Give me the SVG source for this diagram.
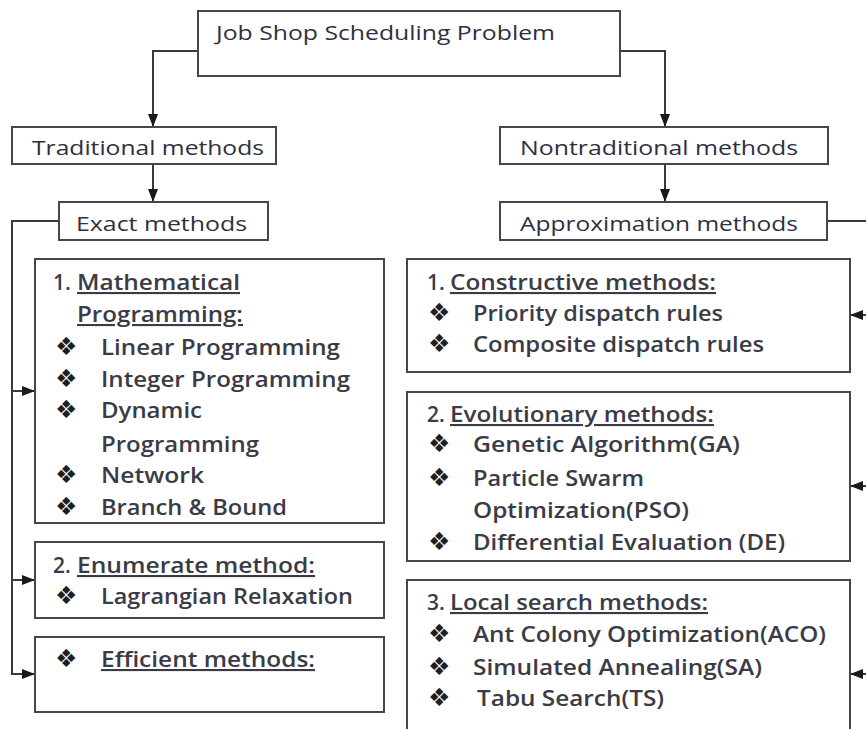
<svg xmlns="http://www.w3.org/2000/svg" width="866" height="729" viewBox="0 0 866 729">
  <defs>
    <marker id="arrow" viewBox="0 0 13 10" refX="13" refY="5" markerWidth="13" markerHeight="10" markerUnits="userSpaceOnUse" orient="auto">
      <path d="M0,0 L13,5 L0,10 Z" fill="#1a1a1a"/>
    </marker>
    <style>
      .box { fill: #ffffff; stroke: #474747; stroke-width: 2; }
      .wire { fill: none; stroke: #3a3a3a; stroke-width: 2; }
      .head { font-family: "Open Sans", "Liberation Sans", sans-serif; font-size: 20px; fill: #2e3042; }
      .txt { font-family: "Open Sans", "Liberation Sans", sans-serif; font-size: 21px; font-weight: 600; fill: #3a3b46; }
      .ul { text-decoration: underline; }
      .bul { font-family: "DejaVu Sans", sans-serif; font-size: 25px; fill: #1e1e24; }
    </style>
  </defs>
  <rect width="866" height="729" fill="#ffffff"/>

  <!-- connectors -->
  <g id="connectors">
    <path class="wire" d="M198,51 H153 V127" marker-end="url(#arrow)"/>
    <path class="wire" d="M620,51 H665 V127" marker-end="url(#arrow)"/>
    <path class="wire" d="M153,164 V202" marker-end="url(#arrow)"/>
    <path class="wire" d="M665,164 V202" marker-end="url(#arrow)"/>
    <path class="wire" d="M59,221 H12 V675"/>
    <path class="wire" d="M12,391 H35" marker-end="url(#arrow)"/>
    <path class="wire" d="M12,580 H35" marker-end="url(#arrow)"/>
    <path class="wire" d="M11,674 H35" marker-end="url(#arrow)"/>
    <path class="wire" d="M827,221 H866"/>
    <path class="wire" d="M868,315 H850" marker-end="url(#arrow)"/>
    <path class="wire" d="M868,486 H850" marker-end="url(#arrow)"/>
    <path class="wire" d="M868,674 H850" marker-end="url(#arrow)"/>
  </g>

  <!-- root -->
  <g id="job-shop">
    <rect class="box" x="198" y="11" width="422" height="65"/>
    <text class="head" x="216" y="40" textLength="339" lengthAdjust="spacingAndGlyphs">Job Shop Scheduling Problem</text>
  </g>

  <g id="traditional">
    <rect class="box" x="12" y="127" width="264" height="37"/>
    <text class="head" x="32" y="155" textLength="232" lengthAdjust="spacingAndGlyphs">Traditional methods</text>
  </g>

  <g id="nontraditional">
    <rect class="box" x="500" y="127" width="328" height="37"/>
    <text class="head" x="520" y="155" textLength="278" lengthAdjust="spacingAndGlyphs">Nontraditional methods</text>
  </g>

  <g id="exact">
    <rect class="box" x="59" y="202" width="209" height="38"/>
    <text class="head" x="76" y="231" textLength="171" lengthAdjust="spacingAndGlyphs">Exact methods</text>
  </g>

  <g id="approximation">
    <rect class="box" x="500" y="202" width="327" height="38"/>
    <text class="head" x="520" y="231" textLength="278" lengthAdjust="spacingAndGlyphs">Approximation methods</text>
  </g>

  <!-- exact method families -->
  <g id="mathematical-programming">
    <rect class="box" x="35" y="259" width="349" height="264"/>
    <text class="txt" x="53" y="290">1.</text>
    <text class="txt ul" x="77" y="290" textLength="163" lengthAdjust="spacingAndGlyphs">Mathematical</text>
    <text class="txt ul" x="77" y="322" textLength="166" lengthAdjust="spacingAndGlyphs">Programming:</text>
    <text class="bul" x="55" y="355">❖</text>
    <text class="txt" x="101" y="355" textLength="239" lengthAdjust="spacingAndGlyphs">Linear  Programming</text>
    <text class="bul" x="55" y="387">❖</text>
    <text class="txt" x="101" y="387" textLength="249" lengthAdjust="spacingAndGlyphs">Integer Programming</text>
    <text class="bul" x="55" y="418">❖</text>
    <text class="txt" x="101" y="418" textLength="101" lengthAdjust="spacingAndGlyphs">Dynamic</text>
    <text class="txt" x="101" y="452" textLength="158" lengthAdjust="spacingAndGlyphs">Programming</text>
    <text class="bul" x="55" y="483">❖</text>
    <text class="txt" x="101" y="483" textLength="103" lengthAdjust="spacingAndGlyphs">Network</text>
    <text class="bul" x="55" y="515">❖</text>
    <text class="txt" x="101" y="515" textLength="186" lengthAdjust="spacingAndGlyphs">Branch &amp; Bound</text>
  </g>

  <g id="enumerate">
    <rect class="box" x="35" y="542" width="349" height="76"/>
    <text class="txt" x="53" y="573">2.</text>
    <text class="txt ul" x="77" y="573" textLength="238" lengthAdjust="spacingAndGlyphs">Enumerate method:</text>
    <text class="bul" x="55" y="604">❖</text>
    <text class="txt" x="101" y="604" textLength="252" lengthAdjust="spacingAndGlyphs">Lagrangian Relaxation</text>
  </g>

  <g id="efficient">
    <rect class="box" x="35" y="637" width="349" height="75"/>
    <text class="bul" x="55" y="667">❖</text>
    <text class="txt ul" x="101" y="667" textLength="214" lengthAdjust="spacingAndGlyphs">Efficient methods:</text>
  </g>

  <!-- approximation method families -->
  <g id="constructive">
    <rect class="box" x="407" y="259" width="443" height="113"/>
    <text class="txt" x="427" y="290">1.</text>
    <text class="txt ul" x="450" y="290" textLength="266" lengthAdjust="spacingAndGlyphs">Constructive methods:</text>
    <text class="bul" x="428" y="321">❖</text>
    <text class="txt" x="473" y="321" textLength="250" lengthAdjust="spacingAndGlyphs">Priority dispatch rules</text>
    <text class="bul" x="428" y="352">❖</text>
    <text class="txt" x="473" y="352" textLength="291" lengthAdjust="spacingAndGlyphs">Composite dispatch rules</text>
  </g>

  <g id="evolutionary">
    <rect class="box" x="407" y="392" width="443" height="169"/>
    <text class="txt" x="427" y="422">2.</text>
    <text class="txt ul" x="450" y="422" textLength="264" lengthAdjust="spacingAndGlyphs">Evolutionary methods:</text>
    <text class="bul" x="428" y="452">❖</text>
    <text class="txt" x="473" y="452" textLength="267" lengthAdjust="spacingAndGlyphs">Genetic Algorithm(GA)</text>
    <text class="bul" x="428" y="486">❖</text>
    <text class="txt" x="473" y="486" textLength="171" lengthAdjust="spacingAndGlyphs">Particle Swarm</text>
    <text class="txt" x="473" y="518" textLength="216" lengthAdjust="spacingAndGlyphs">Optimization(PSO)</text>
    <text class="bul" x="428" y="550">❖</text>
    <text class="txt" x="473" y="550" textLength="312" lengthAdjust="spacingAndGlyphs">Differential Evaluation (DE)</text>
  </g>

  <g id="local-search">
    <rect class="box" x="407" y="580" width="443" height="152"/>
    <text class="txt" x="427" y="610">3.</text>
    <text class="txt ul" x="450" y="610" textLength="258" lengthAdjust="spacingAndGlyphs">Local search methods:</text>
    <text class="bul" x="428" y="642">❖</text>
    <text class="txt" x="473" y="642" textLength="353" lengthAdjust="spacingAndGlyphs">Ant Colony Optimization(ACO)</text>
    <text class="bul" x="428" y="675">❖</text>
    <text class="txt" x="473" y="675" textLength="289" lengthAdjust="spacingAndGlyphs">Simulated Annealing(SA)</text>
    <text class="bul" x="428" y="706">❖</text>
    <text class="txt" x="477" y="706" textLength="187" lengthAdjust="spacingAndGlyphs">Tabu Search(TS)</text>
  </g>
</svg>
